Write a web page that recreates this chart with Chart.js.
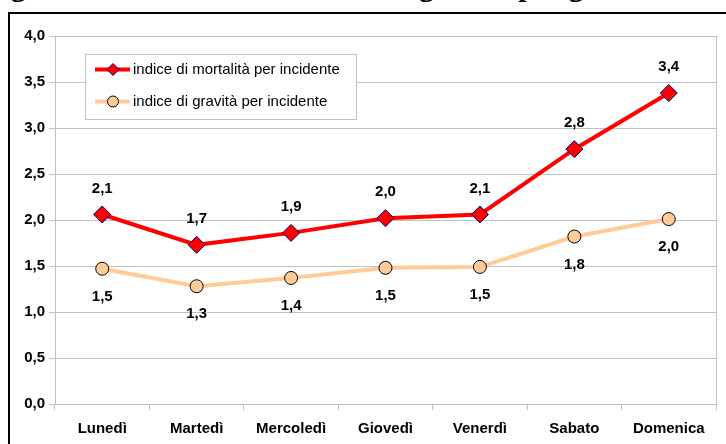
<!DOCTYPE html>
<html>
<head>
<meta charset="utf-8">
<script src="https://cdn.jsdelivr.net/npm/chart.js@4"></script>
<style>
    html, body { margin: 0; padding: 0; background: #fff; overflow: hidden; }
    #pagina { position: relative; width: 726px; height: 444px; overflow: hidden; }
    #titolo {
        position: absolute; left: -16px; top: -29px; white-space: nowrap;
        font: bold 30px "Liberation Serif", "Times New Roman", serif; line-height: 30px; color: #000;
    }
    #cornice {
        position: absolute; left: 8px; top: 12px; width: 900px; height: 600px;
        border: 2px solid #000; box-sizing: border-box;
    }
    #grafico { position: absolute; left: 0; top: 0; }
</style>
</head>
<body>
<div id="pagina">
    <div id="titolo">Figura 6 – Indici di mortalità e di gravità per giorno della settimana</div>
    <div id="cornice"></div>
    <canvas id="grafico" width="726" height="444"></canvas>
</div>
<script>
/* dati */
const giorni = ["Lunedì", "Martedì", "Mercoledì", "Giovedì", "Venerdì", "Sabato", "Domenica"];
const mortalita = [2.06, 1.73, 1.86, 2.02, 2.06, 2.77, 3.38];
const gravita = [1.47, 1.28, 1.37, 1.48, 1.49, 1.82, 2.01];
const tickY = [0, 0.5, 1, 1.5, 2, 2.5, 3, 3.5, 4];

const nomeMortalita = "indice di mortalità per incidente";
const nomeGravita = "indice di gravità per incidente";

const fmt = v => v.toFixed(1).replace(".", ",");
const FONT = "'Liberation Sans', Arial, sans-serif";

/* ======================================================
   ETICHETTE DEI VALORI (sopra / sotto i punti)
   ====================================================== */
const etichette = {
    id: "etichette",
    afterDatasetsDraw(chart) {
        const ctx = chart.ctx;
        ctx.save();
        ctx.font = "bold 15px " + FONT;
        ctx.fillStyle = "#000";
        ctx.textAlign = "center";
        ctx.textBaseline = "middle";
        chart.data.datasets.forEach((ds, i) => {
            const meta = chart.getDatasetMeta(i);
            const sposta = ds.posEtichetta === "sopra" ? -26 : 28;
            meta.data.forEach((p, j) => {
                ctx.fillText(fmt(ds.data[j]), p.x, p.y + sposta);
            });
        });
        ctx.restore();
    }
};

/* ======================================================
   BORDO DESTRO E LEGENDA NEL RIQUADRO
   ====================================================== */
const riquadro = {
    id: "riquadro",
    beforeDatasetsDraw(chart) {
        const { ctx, chartArea } = chart;
        ctx.save();
        ctx.strokeStyle = "#c0c0c0";
        ctx.lineWidth = 1;
        ctx.beginPath();
        ctx.moveTo(chartArea.right + 0.5, chartArea.top);
        ctx.lineTo(chartArea.right + 0.5, chartArea.bottom);
        ctx.stroke();
        ctx.restore();
    },
    afterDraw(chart) {
        const ctx = chart.ctx;
        const bx = 85, by = 54, bw = 271, bh = 65;
        ctx.save();
        ctx.fillStyle = "#fff";
        ctx.fillRect(bx, by, bw, bh);
        ctx.strokeStyle = "#c0c0c0";
        ctx.lineWidth = 1;
        ctx.strokeRect(bx + 0.5, by + 0.5, bw, bh);

        const righe = [69.5, 101.5];
        chart.data.datasets.forEach((ds, i) => {
            const y = righe[i];
            ctx.strokeStyle = ds.borderColor;
            ctx.lineWidth = 4;
            ctx.beginPath();
            ctx.moveTo(95, y);
            ctx.lineTo(130, y);
            ctx.stroke();

            ctx.fillStyle = ds.pointBackgroundColor;
            ctx.strokeStyle = ds.pointBorderColor;
            ctx.lineWidth = 1;
            ctx.beginPath();
            if (ds.pointStyle === "rectRot") {
                ctx.moveTo(113, y - 6);
                ctx.lineTo(119, y);
                ctx.lineTo(113, y + 6);
                ctx.lineTo(107, y);
                ctx.closePath();
            } else {
                ctx.arc(113, y, 5.5, 0, Math.PI * 2);
            }
            ctx.fill();
            ctx.stroke();

            ctx.fillStyle = "#000";
            ctx.font = "15px " + FONT;
            ctx.textAlign = "left";
            ctx.textBaseline = "middle";
            ctx.fillText(ds.label, 133, y + 0.5);
        });
        ctx.restore();
    }
};

new Chart(document.getElementById("grafico"), {
    type: "line",
    data: {
        labels: giorni,
        datasets: [
            {
                label: nomeMortalita,
                data: mortalita,
                borderColor: "#ff0000",
                borderWidth: 4,
                pointStyle: "rectRot",
                pointRadius: 8.5,
                pointBackgroundColor: "#ff0000",
                pointBorderColor: "#000080",
                pointBorderWidth: 1,
                tension: 0,
                posEtichetta: "sopra"
            },
            {
                label: nomeGravita,
                data: gravita,
                borderColor: "#ffcc99",
                borderWidth: 4,
                pointStyle: "circle",
                pointRadius: 6.5,
                pointBackgroundColor: "#ffcc99",
                pointBorderColor: "#000000",
                pointBorderWidth: 1,
                tension: 0,
                posEtichetta: "sotto"
            }
        ]
    },
    options: {
        responsive: false,
        animation: false,
        layout: { padding: { left: 0, right: 10, top: 36, bottom: 0 } },
        plugins: {
            legend: { display: false },
            tooltip: { enabled: false }
        },
        scales: {
            x: {
                offset: true,
                grid: { offset: true, drawOnChartArea: false, drawTicks: true, tickLength: 6, color: "#c0c0c0" },
                border: { color: "#c0c0c0" },
                ticks: {
                    color: "#000",
                    padding: 10,
                    maxRotation: 0,
                    font: { family: FONT, size: 15, weight: "bold" }
                },
                afterFit: s => { s.height = 40; }
            },
            y: {
                min: 0,
                max: 4,
                afterBuildTicks: s => { s.ticks = tickY.map(v => ({ value: v })); },
                grid: { color: "#c0c0c0", tickLength: 6 },
                border: { color: "#c0c0c0" },
                ticks: {
                    color: "#000",
                    padding: 4,
                    callback: v => fmt(v),
                    font: { family: FONT, size: 15, weight: "bold" }
                },
                afterFit: s => { s.width = 55; }
            }
        }
    },
    plugins: [riquadro, etichette]
});
</script>
</body>
</html>
